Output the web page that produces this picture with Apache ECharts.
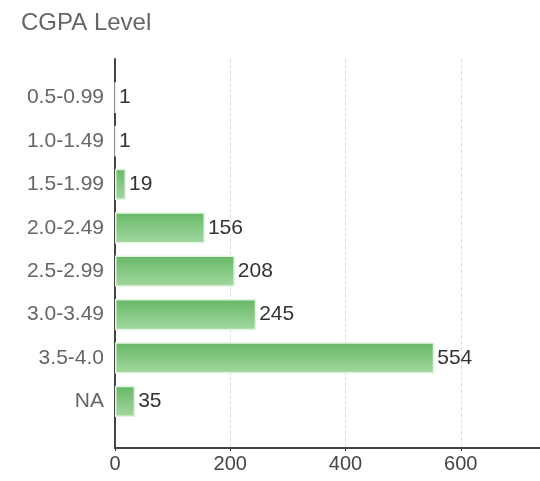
<!DOCTYPE html>
<html>
<head>
<meta charset="utf-8">
<script src="https://cdn.jsdelivr.net/npm/echarts@6/dist/echarts.min.js"></script>
<style>html,body{margin:0;padding:0;background:#fff;}#c{width:540px;height:481px;}</style>
</head>
<body>
<div id="c"></div>
<script>
const categories = ['0.5-0.99', '1.0-1.49', '1.5-1.99', '2.0-2.49', '2.5-2.99', '3.0-3.49', '3.5-4.0', 'NA'];
const counts = [1, 1, 19, 156, 208, 245, 554, 35];
const xTicks = { min: 0, max: 800, interval: 200 };

const chart = echarts.init(document.getElementById('c'));
chart.setOption({
  animation: false,
  title: {
    text: 'CGPA Level', left: 16, top: 6,
    textStyle: { fontSize: 24, fontWeight: 'normal', color: '#666', fontFamily: 'Arial, Liberation Sans, sans-serif' }
  },
  textStyle: { fontFamily: 'Arial, Liberation Sans, sans-serif' },
  grid: [
    { left: 115, width: 461, top: 76, bottom: 58, outerBoundsMode: 'none' },
    { left: 115, width: 461, top: 59, bottom: 33, outerBoundsMode: 'none' }
  ],
  xAxis: [
    { gridIndex: 0, type: 'value', min: xTicks.min, max: xTicks.max, interval: xTicks.interval, show: false },
    { gridIndex: 1, type: 'value', min: xTicks.min, max: xTicks.max, interval: xTicks.interval,
      axisLine: { show: true, lineStyle: { color: '#444', width: 2 } },
      axisTick: { show: true, length: 3, lineStyle: { color: '#333' } },
      axisLabel: { color: '#444', fontSize: 20, margin: 6 },
      splitLine: { show: true, lineStyle: { type: 'dashed', color: '#e0e0e0', width: 1 } } }
  ],
  yAxis: [
    { gridIndex: 0, type: 'category', data: categories, inverse: true,
      axisLine: { show: false }, axisTick: { show: false },
      axisLabel: { color: '#666', fontSize: 21, margin: 11 } },
    { gridIndex: 1, type: 'value', min: 0, max: 1,
      axisLine: { show: true, lineStyle: { color: '#444', width: 2 } },
      axisTick: { show: false }, axisLabel: { show: false }, splitLine: { show: false } }
  ],
  series: [{
    type: 'bar', xAxisIndex: 0, yAxisIndex: 0, data: counts,
    barCategoryGap: '28%',
    itemStyle: {
      color: new echarts.graphic.LinearGradient(0, 0, 0, 1, [
        { offset: 0, color: '#66b866' }, { offset: 1, color: '#a3d8a0' }
      ]),
      borderColor: '#e3f3e1', borderWidth: 1.5
    },
    label: { show: true, position: 'right', distance: 3, color: '#333', fontSize: 21 }
  }]
});
</script>
</body>
</html>
